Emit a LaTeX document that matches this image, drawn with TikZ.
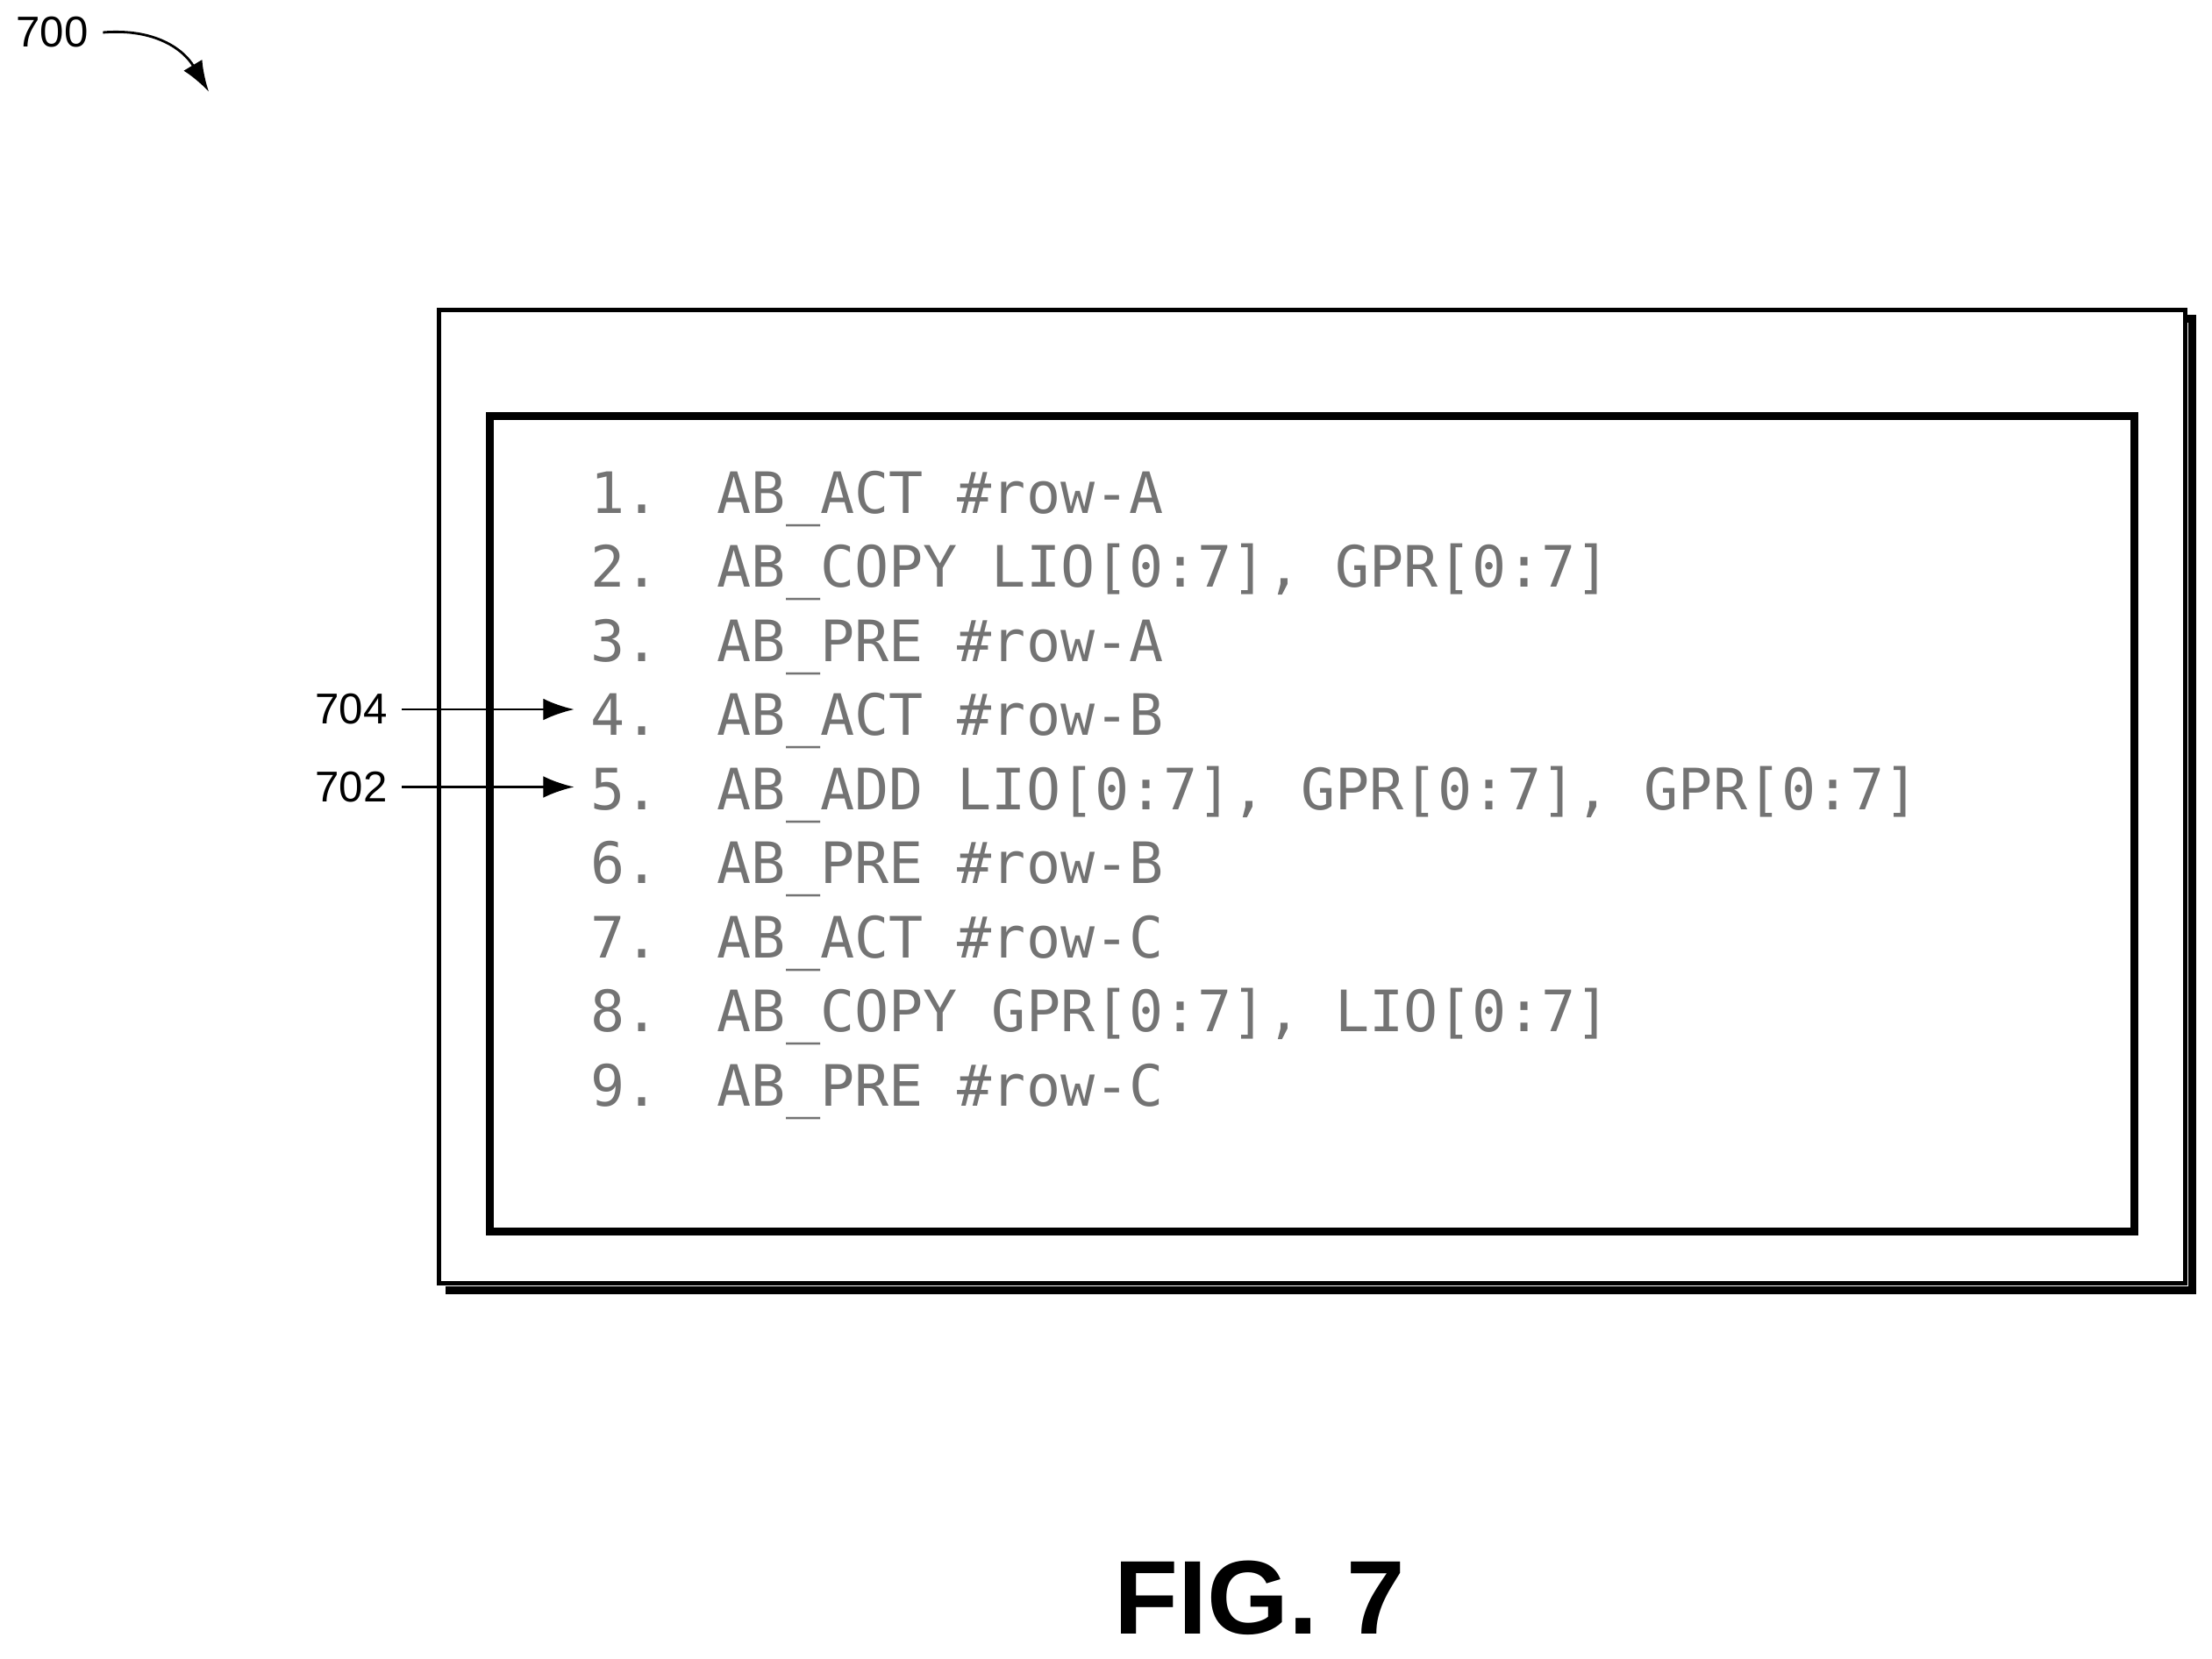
\documentclass[tikz,border=0pt]{standalone}
\usepackage{fontspec}
\setmainfont{Liberation Sans}
\newfontfamily\codefont{DejaVu Sans Mono}
\usetikzlibrary{arrows.meta}
\tikzset{
  code/.style={anchor=base west,inner sep=0pt,text=black!55,font=\codefont\fontsize{18.5}{20}\selectfont},
  refnum/.style={inner sep=0pt,font=\fontsize{14}{16}\selectfont},
  ptr/.style={thick,-{Latex[length=10pt,width=7pt]}}
}
\begin{document}
\begin{tikzpicture}[x=0.01608cm,y=-0.01608cm]
\useasboundingbox (0,0) rectangle (1568,1176);

% outer frame with shadow
\draw[line width=2.5pt] (316,226) -- (1554,226) -- (1554,915) -- (316,915);
\draw[line width=1.5pt,fill=white] (311,220) rectangle (1549,910);
\draw[line width=2.5pt] (347,295) rectangle (1513,873);

% program lines
\foreach \n/\txt [count=\i from 0] in {1/AB\_ACT \#row-A,
  2/AB\_COPY LIO[0:7]{,} GPR[0:7],
  3/AB\_PRE \#row-A,
  4/AB\_ACT \#row-B,
  5/AB\_ADD LIO[0:7]{,} GPR[0:7]{,} GPR[0:7],
  6/AB\_PRE \#row-B,
  7/AB\_ACT \#row-C,
  8/AB\_COPY GPR[0:7]{,} LIO[0:7],
  9/AB\_PRE \#row-C}{
  \node[code] (num\n) at (418,364+52.5*\i) {\n.};
  \node[code] (line\n) at (508,364+52.5*\i) {\txt};
  \coordinate (in\n) at (407,350+52.5*\i);
}

% reference labels
\node[refnum,anchor=east] (r704) at (275,503) {704};
\node[refnum,anchor=east] (r702) at (275,558) {702};
\draw[ptr] (r704.east) ++(10,0) -- (r704.east -| in4);
\draw[ptr] (r702.east) ++(10,0) -- (r702.east -| in5);

\node[refnum] (r700) at (37,23) {700};
\coordinate (tip700) at (148,65);
\draw[thick,-{Latex[length=10pt,width=7pt]}] (r700.east) ++(10,0) .. controls (110,20) and (130,35) .. (tip700);

\node[font=\bfseries\fontsize{34}{36}\selectfont] (fig) at (893,1133) {FIG. 7};
\end{tikzpicture}
\end{document}
